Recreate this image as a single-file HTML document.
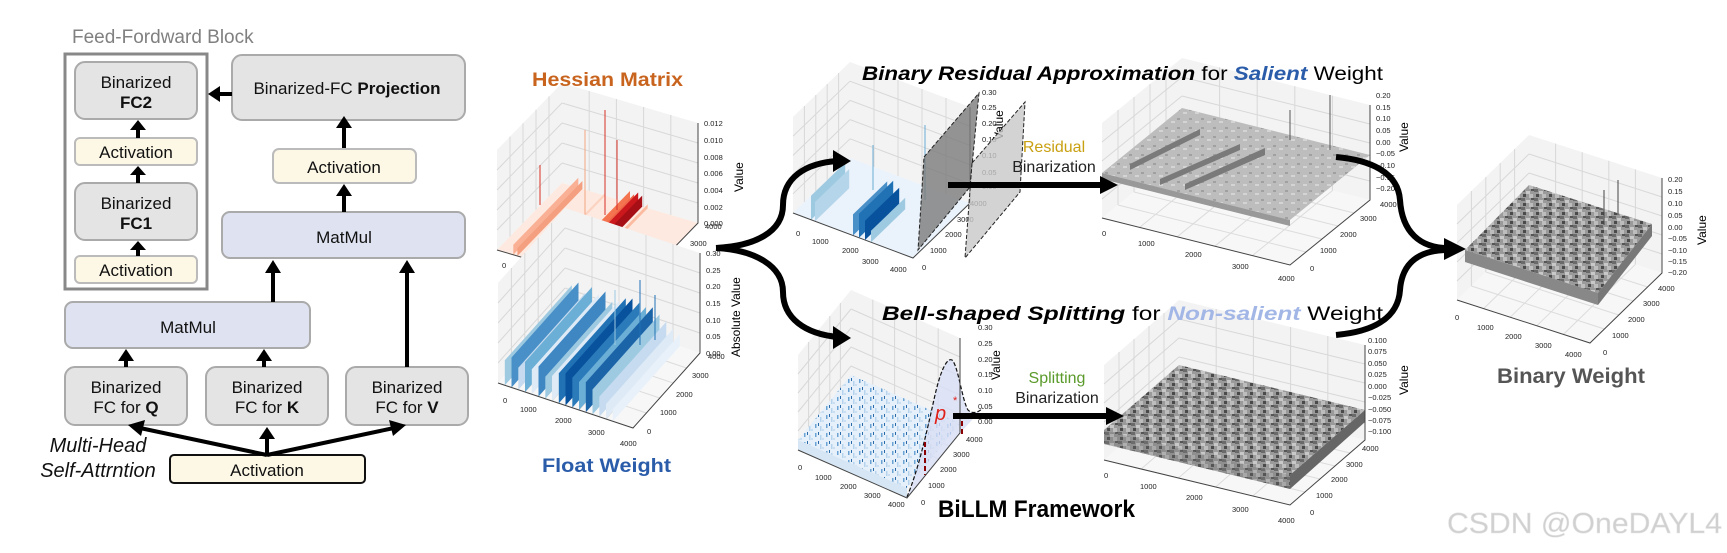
<!DOCTYPE html>
<html><head><meta charset="utf-8"><style>
html,body{margin:0;padding:0;background:#fff;}
svg{display:block;font-family:"Liberation Sans",Arial,sans-serif;}
.t{font-size:7.5px;fill:#222;}
</style></head><body>
<svg width="1727" height="553" viewBox="0 0 1727 553" xmlns="http://www.w3.org/2000/svg">
<defs>
<g id="wall"><rect x="0" y="0" width="1" height="1" fill="#f3f3f3"/>
<path d="M.2 0V1M.4 0V1M.6 0V1M.8 0V1M0 .2H1M0 .4H1M0 .6H1M0 .8H1" stroke="#d8d8d8" stroke-width="1" vector-effect="non-scaling-stroke" fill="none"/></g>
<g id="floor"><rect x="0" y="0" width="1" height="1" fill="#f7f7f7"/>
<path d="M.2 0V1M.4 0V1M.6 0V1M.8 0V1M0 .2H1M0 .4H1M0 .6H1M0 .8H1" stroke="#dcdcdc" stroke-width="1" vector-effect="non-scaling-stroke" fill="none"/></g>
<pattern id="gr" width="13" height="9" patternUnits="userSpaceOnUse">
<rect width="13" height="9" fill="#9a9a9a"/><rect x="0" y="0" width="4" height="3" fill="#6a6a6a"/><rect x="5" y="2" width="4" height="3" fill="#c8c8c8"/><rect x="2" y="5" width="3" height="3" fill="#4a4a4a"/><rect x="8" y="5" width="4" height="4" fill="#bdbdbd"/><rect x="10" y="0" width="3" height="2" fill="#555"/></pattern>
<pattern id="gl" width="12" height="9" patternUnits="userSpaceOnUse">
<rect width="12" height="9" fill="#bdbdbd"/><rect x="1" y="1" width="3" height="2" fill="#a0a0a0"/><rect x="7" y="4" width="4" height="2" fill="#d4d4d4"/></pattern>
<pattern id="bl" width="11" height="9" patternUnits="userSpaceOnUse">
<rect width="11" height="9" fill="#e6f0fa"/><rect x="1" y="1" width="1.5" height="4" fill="#6aa3d4"/><rect x="6" y="3" width="1.5" height="5" fill="#b5d3ec"/><rect x="4" y="0" width="1" height="3" fill="#2a6aa8"/><rect x="8" y="6" width="2" height="2" fill="#c9def0"/></pattern>
</defs>

<!-- ================= LEFT BLOCK ================= -->
<g font-size="17" text-anchor="middle" fill="#111">
<text x="72" y="43" text-anchor="start" font-size="19" fill="#808080">Feed-Fordward Block</text>
<rect x="65" y="54" width="142" height="235" fill="none" stroke="#888" stroke-width="3"/>
<rect x="75" y="62" width="122" height="57" rx="10" fill="#e4e4e4" stroke="#aaa" stroke-width="2"/>
<text x="136" y="88">Binarized</text><text x="136" y="108" font-weight="bold">FC2</text>
<rect x="75" y="138" width="122" height="27" rx="5" fill="#fdf8e6" stroke="#bbb" stroke-width="2"/>
<text x="136" y="158">Activation</text>
<rect x="75" y="183" width="122" height="57" rx="10" fill="#e4e4e4" stroke="#aaa" stroke-width="2"/>
<text x="136" y="209">Binarized</text><text x="136" y="229" font-weight="bold">FC1</text>
<rect x="75" y="256" width="122" height="27" rx="5" fill="#fdf8e6" stroke="#bbb" stroke-width="2"/>
<text x="136" y="276">Activation</text>

<rect x="232" y="55" width="233" height="65" rx="10" fill="#e4e4e4" stroke="#aaa" stroke-width="2"/>
<text x="347" y="94">Binarized-FC <tspan font-weight="bold">Projection</tspan></text>
<rect x="273" y="149" width="143" height="34" rx="6" fill="#fdf8e6" stroke="#bbb" stroke-width="2"/>
<text x="344" y="173">Activation</text>
<rect x="222" y="212" width="243" height="46" rx="8" fill="#dfe3f1" stroke="#aaa" stroke-width="2"/>
<text x="344" y="243">MatMul</text>
<rect x="65" y="302" width="245" height="46" rx="8" fill="#dfe3f1" stroke="#aaa" stroke-width="2"/>
<text x="188" y="333">MatMul</text>
<rect x="65" y="367" width="122" height="58" rx="10" fill="#e4e4e4" stroke="#aaa" stroke-width="2"/>
<text x="126" y="393">Binarized</text><text x="126" y="413">FC for <tspan font-weight="bold">Q</tspan></text>
<rect x="206" y="367" width="122" height="58" rx="10" fill="#e4e4e4" stroke="#aaa" stroke-width="2"/>
<text x="267" y="393">Binarized</text><text x="267" y="413">FC for  <tspan font-weight="bold">K</tspan></text>
<rect x="346" y="367" width="122" height="58" rx="10" fill="#e4e4e4" stroke="#aaa" stroke-width="2"/>
<text x="407" y="393">Binarized</text><text x="407" y="413">FC for <tspan font-weight="bold">V</tspan></text>
<rect x="170" y="455" width="195" height="28" rx="4" fill="#fdf8e6" stroke="#111" stroke-width="2"/>
<text x="267" y="476">Activation</text>
<text x="98" y="452" font-size="20" font-style="italic">Multi-Head</text>
<text x="98" y="477" font-size="20" font-style="italic">Self-Attrntion</text>
</g>
<g stroke="#000" stroke-width="4" fill="#000">
<line x1="138" y1="138" x2="138" y2="128"/><polygon points="130,130 146,130 138,120" stroke="none"/>
<line x1="138" y1="183" x2="138" y2="174"/><polygon points="130,175 146,175 138,166" stroke="none"/>
<line x1="138" y1="256" x2="138" y2="249"/><polygon points="130,250 146,250 138,241" stroke="none"/>
<line x1="232" y1="94" x2="218" y2="94"/><polygon points="220,86 220,102 208,94" stroke="none"/>
<line x1="344" y1="148" x2="344" y2="127"/><polygon points="336,128 352,128 344,116" stroke="none"/>
<line x1="344" y1="212" x2="344" y2="195"/><polygon points="336,196 352,196 344,184" stroke="none"/>
<line x1="273" y1="302" x2="273" y2="272"/><polygon points="265,273 281,273 273,260" stroke="none"/>
<line x1="407" y1="367" x2="407" y2="272"/><polygon points="399,273 415,273 407,260" stroke="none"/>
<line x1="126" y1="367" x2="126" y2="360"/><polygon points="118,361 134,361 126,349" stroke="none"/>
<line x1="264" y1="367" x2="264" y2="360"/><polygon points="256,361 272,361 264,349" stroke="none"/>
<line x1="267" y1="455" x2="267" y2="438"/><polygon points="259,439 275,439 267,427" stroke="none"/>
<line x1="267" y1="455" x2="140" y2="428"/><polygon points="145,420 141,436 128,425" stroke="none"/>
<line x1="267" y1="455" x2="394" y2="428"/><polygon points="389,420 393,436 406,425" stroke="none"/>
</g>

<!-- ================= PLOTS ================= -->
<!-- 1 Hessian -->
<g>
<use href="#wall" transform="matrix(65,-67,0,-100,497,250)"/>
<use href="#wall" transform="matrix(136,40,0,-100,562,183)"/>
<use href="#floor" transform="matrix(136,40,65,-67,497,250)"/>
<rect width="1" height="1" fill="#fde9df" transform="matrix(136,40,65,-67,497,250)"/>
<g>
<rect width="1" height="0.1" fill="#f9b094" transform="matrix(65,-67,0,-100,513.3,254.8)"/>
<rect width="1" height="0.08" fill="#f4a080" transform="matrix(65,-67,0,-100,517.4,256)"/>
<rect width="1" height="0.03" fill="#fcd2c0" transform="matrix(65,-67,0,-100,540,263)"/>
<rect width="1" height="0.12" fill="#f4744f" transform="matrix(65,-67,0,-100,565,270)"/>
<rect width="1" height="0.1" fill="#ef6548" transform="matrix(65,-67,0,-100,569.1,271.2)"/>
<rect width="1" height="0.13" fill="#cb181d" transform="matrix(65,-67,0,-100,573.2,272.4)"/>
<rect width="1" height="0.11" fill="#a50f15" transform="matrix(65,-67,0,-100,577.2,273.6)"/>
<rect width="1" height="0.04" fill="#fcbba1" transform="matrix(65,-67,0,-100,582.7,275.2)"/>
</g>
<g stroke="#d73027" stroke-width="1"><line x1="605" y1="215" x2="605" y2="110"/><line x1="617" y1="210" x2="617" y2="140"/><line x1="540" y1="205" x2="540" y2="165"/><line x1="585" y1="215" x2="585" y2="130" stroke="#f4a582"/></g>
<path d="M497 250L633 290L698 223V123" fill="none" stroke="#444" stroke-width="1"/>
<g class="t"><text x="502" y="268">0</text><text x="522" y="278">1000</text><text x="556" y="288">2000</text><text x="590" y="298">3000</text><text x="622" y="306">4000</text>
<text x="648" y="298">0</text><text x="660" y="280">1000</text><text x="676" y="262">2000</text><text x="690" y="246">3000</text><text x="705" y="229">4000</text>
<text x="704" y="226">0.000</text><text x="704" y="210">0.002</text><text x="704" y="193">0.004</text><text x="704" y="176">0.006</text><text x="704" y="160">0.008</text><text x="704" y="143">0.010</text><text x="704" y="126">0.012</text></g>
<text x="0" y="0" font-size="12" transform="translate(743,192) rotate(-90)">Value</text>
</g>

<!-- 2 Float -->
<g>
<use href="#wall" transform="matrix(67,-75,0,-100,498,383)"/>
<use href="#wall" transform="matrix(135,45,0,-100,565,308)"/>
<use href="#floor" transform="matrix(135,45,67,-75,498,383)"/>
<rect width="1" height="0.25" fill="#9ecae1" transform="matrix(67,-75,0,-100,504.8,385.3)"/>
<rect width="1" height="0.3" fill="#4a90c8" transform="matrix(67,-75,0,-100,511.5,387.5)"/>
<rect width="1" height="0.22" fill="#c6dbef" transform="matrix(67,-75,0,-100,518.3,389.8)"/>
<rect width="1" height="0.3" fill="#6baed6" transform="matrix(67,-75,0,-100,525,392)"/>
<rect width="1" height="0.25" fill="#deebf7" transform="matrix(67,-75,0,-100,531.8,394.3)"/>
<rect width="1" height="0.3" fill="#3f87c2" transform="matrix(67,-75,0,-100,538.5,396.5)"/>
<rect width="1" height="0.22" fill="#9ecae1" transform="matrix(67,-75,0,-100,545.3,398.8)"/>
<rect width="1" height="0.25" fill="#deebf7" transform="matrix(67,-75,0,-100,552,401)"/>
<rect width="1" height="0.3" fill="#2171b5" transform="matrix(67,-75,0,-100,558.8,403.3)"/>
<rect width="1" height="0.32" fill="#08519c" transform="matrix(67,-75,0,-100,565.5,405.5)"/>
<rect width="1" height="0.3" fill="#2b7bba" transform="matrix(67,-75,0,-100,572.3,407.8)"/>
<rect width="1" height="0.28" fill="#6baed6" transform="matrix(67,-75,0,-100,579,410)"/>
<rect width="1" height="0.3" fill="#1c64a8" transform="matrix(67,-75,0,-100,585.8,412.3)"/>
<rect width="1" height="0.25" fill="#9ecae1" transform="matrix(67,-75,0,-100,592.5,414.5)"/>
<rect width="1" height="0.2" fill="#c6dbef" transform="matrix(67,-75,0,-100,599.3,416.8)"/>
<rect width="1" height="0.15" fill="#deebf7" transform="matrix(67,-75,0,-100,606,419)"/>
<rect width="1" height="0.12" fill="#e8f1fa" transform="matrix(67,-75,0,-100,612.8,421.3)"/>
<g stroke="#2171b5" stroke-width="1"><line x1="640" y1="345" x2="640" y2="280"/><line x1="655" y1="340" x2="655" y2="295"/><line x1="615" y1="345" x2="615" y2="290" stroke="#9ecae1"/></g>
<path d="M498 383L633 428L700 353V253" fill="none" stroke="#444" stroke-width="1"/>
<g class="t"><text x="503" y="403">0</text><text x="520" y="412">1000</text><text x="555" y="423">2000</text><text x="588" y="435">3000</text><text x="620" y="446">4000</text>
<text x="647" y="434">0</text><text x="660" y="415">1000</text><text x="676" y="397">2000</text><text x="692" y="378">3000</text><text x="708" y="359">4000</text>
<text x="706" y="356">0.00</text><text x="706" y="339">0.05</text><text x="706" y="323">0.10</text><text x="706" y="306">0.15</text><text x="706" y="289">0.20</text><text x="706" y="273">0.25</text><text x="706" y="256">0.30</text></g>
<text x="0" y="0" font-size="12" transform="translate(740,357) rotate(-90)">Absolute Value</text>
</g>

<!-- 3 Residual in -->
<g>
<use href="#wall" transform="matrix(57,-55,0,-96,793,213)"/>
<use href="#wall" transform="matrix(120,45,0,-96,850,158)"/>
<use href="#floor" transform="matrix(120,45,57,-55,793,213)"/>
<rect width="1" height="1" fill="#eaf2fb" transform="matrix(120,45,57,-55,793,213)"/>
<rect width="0.6" height="0.25" fill="#9ecae1" transform="matrix(57,-55,0,-96,811,219.8)"/>
<rect width="0.6" height="0.2" fill="#b5d5ea" transform="matrix(57,-55,0,-96,815,221.3)"/>
<rect width="0.6" height="0.22" fill="#4a90c8" transform="matrix(57,-55,0,-96,853,235.5)"/>
<rect width="0.6" height="0.25" fill="#2171b5" transform="matrix(57,-55,0,-96,859,237.8)"/>
<rect width="0.6" height="0.2" fill="#08519c" transform="matrix(57,-55,0,-96,865,240)"/>
<rect width="0.6" height="0.12" fill="#9ecae1" transform="matrix(57,-55,0,-96,871,242.3)"/>
<g stroke="#6baed6" stroke-width="1"><line x1="925" y1="200" x2="925" y2="125"/><line x1="873" y1="190" x2="873" y2="145"/></g>
<path d="M793 213L913 258L970 203V107" fill="none" stroke="#444" stroke-width="1"/>
<g class="t"><text x="796" y="236">0</text><text x="812" y="244">1000</text><text x="842" y="253">2000</text><text x="862" y="264">3000</text><text x="890" y="272">4000</text>
<text x="922" y="270">0</text><text x="930" y="253">1000</text><text x="945" y="237">2000</text><text x="957" y="222">3000</text><text x="970" y="206">4000</text>
<text x="982" y="189">0.00</text><text x="982" y="175">0.05</text><text x="982" y="158">0.10</text><text x="982" y="142">0.15</text><text x="982" y="126">0.20</text><text x="982" y="110">0.25</text><text x="982" y="95">0.30</text></g>
<text x="0" y="0" font-size="12" transform="translate(1003,140) rotate(-90)">Value</text>
<polygon points="924,157 979,93 970,187 918,250" fill="#7a7a7a" fill-opacity="0.8" stroke="#222" stroke-dasharray="4,2" stroke-width="1"/>
<polygon points="972,163 1025,102 1020,192 965,258" fill="#c8c8c8" fill-opacity="0.8" stroke="#222" stroke-dasharray="4,2" stroke-width="1"/>
</g>

<!-- 4 Residual out -->
<g>
<use href="#wall" transform="matrix(80,-65,0,-95,1102,218)"/>
<use href="#wall" transform="matrix(188,47,0,-95,1182,153)"/>
<use href="#floor" transform="matrix(188,47,80,-65,1102,218)"/>
<polygon points="1102,173 1290,220 1370,155 1182,108" fill="url(#gl)"/>
<polygon points="1102,173 1290,220 1290,226 1102,179" fill="#999"/>
<g fill="#7a7a7a"><polygon points="1130,170 1200,135 1200,129 1130,164"/><polygon points="1160,185 1240,150 1240,144 1160,179"/><polygon points="1185,190 1265,155 1265,148 1185,184"/></g>
<g stroke="#555" stroke-width="1"><line x1="1290" y1="140" x2="1290" y2="110"/><line x1="1330" y1="150" x2="1330" y2="95"/></g>
<path d="M1102 218L1290 265L1370 200V105" fill="none" stroke="#444" stroke-width="1"/>
<g class="t"><text x="1102" y="236">0</text><text x="1138" y="246">1000</text><text x="1185" y="257">2000</text><text x="1232" y="269">3000</text><text x="1278" y="281">4000</text>
<text x="1310" y="271">0</text><text x="1320" y="253">1000</text><text x="1340" y="237">2000</text><text x="1360" y="221">3000</text><text x="1380" y="207">4000</text>
<text x="1376" y="191">−0.20</text><text x="1376" y="180">−0.15</text><text x="1376" y="168">−0.10</text><text x="1376" y="156">−0.05</text><text x="1376" y="145">0.00</text><text x="1376" y="133">0.05</text><text x="1376" y="121">0.10</text><text x="1376" y="110">0.15</text><text x="1376" y="98">0.20</text></g>
<text x="0" y="0" font-size="12" transform="translate(1408,152) rotate(-90)">Value</text>
</g>

<!-- 5 Bell in -->
<g>
<use href="#wall" transform="matrix(53,-65,0,-95,798,450)"/>
<use href="#wall" transform="matrix(109,48,0,-95,851,385)"/>
<use href="#floor" transform="matrix(109,48,53,-65,798,450)"/>
<polygon points="798,440 907,488 960,423 851,375" fill="url(#bl)"/>
<polygon points="798,440 907,488 907,498 798,450" fill="#d6e6f4"/>
<path d="M907 497C918 470 925 440 935 395C942 365 948 358 952 360C958 365 962 400 968 410C972 414 978 413 983 408L960 433L907 498Z" fill="#d8def5" fill-opacity="0.8"/>
<path d="M907 497C918 470 925 440 935 395C942 365 948 358 952 360C958 365 962 400 968 410C972 414 978 413 983 408" fill="none" stroke="#111" stroke-width="1.2" stroke-dasharray="4,2"/>
<g stroke="#8b0000" stroke-width="2" stroke-dasharray="5,3"><line x1="925" y1="442" x2="925" y2="475"/><line x1="962" y1="413" x2="962" y2="437"/></g>
<text x="935" y="420" font-size="20" font-style="italic" fill="#e0201a">p</text><text x="953" y="404" font-size="11" fill="#e0201a">*</text>
<path d="M798 450L907 498L960 433V338" fill="none" stroke="#444" stroke-width="1"/>
<g class="t"><text x="798" y="470">0</text><text x="815" y="480">1000</text><text x="840" y="489">2000</text><text x="864" y="498">3000</text><text x="888" y="507">4000</text>
<text x="921" y="505">0</text><text x="928" y="488">1000</text><text x="940" y="472">2000</text><text x="953" y="457">3000</text><text x="966" y="442">4000</text>
<text x="978" y="424">0.00</text><text x="978" y="409">0.05</text><text x="978" y="393">0.10</text><text x="978" y="377">0.15</text><text x="978" y="362">0.20</text><text x="978" y="346">0.25</text><text x="978" y="330">0.30</text></g>
<text x="0" y="0" font-size="12" transform="translate(1000,380) rotate(-90)">Value</text>
</g>

<!-- 6 Bell out -->
<g>
<use href="#wall" transform="matrix(75,-65,0,-95,1104,460)"/>
<use href="#wall" transform="matrix(186,45,0,-95,1179,395)"/>
<use href="#floor" transform="matrix(186,45,75,-65,1104,460)"/>
<polygon points="1104,430 1290,475 1365,410 1179,365" fill="url(#gr)"/>
<polygon points="1104,430 1290,475 1290,489 1104,444" fill="url(#gr)" opacity="0.85"/>
<polygon points="1104,430 1290,475 1290,489 1104,444" fill="#000" opacity="0.15"/>
<polygon points="1290,475 1365,410 1365,422 1290,489" fill="#666"/>
<path d="M1104 460L1290 505L1365 440V345" fill="none" stroke="#444" stroke-width="1"/>
<g class="t"><text x="1104" y="478">0</text><text x="1140" y="489">1000</text><text x="1186" y="500">2000</text><text x="1232" y="512">3000</text><text x="1278" y="523">4000</text>
<text x="1310" y="515">0</text><text x="1316" y="498">1000</text><text x="1331" y="482">2000</text><text x="1346" y="467">3000</text><text x="1362" y="451">4000</text>
<text x="1368" y="434">−0.100</text><text x="1368" y="423">−0.075</text><text x="1368" y="412">−0.050</text><text x="1368" y="400">−0.025</text><text x="1368" y="389">0.000</text><text x="1368" y="377">0.025</text><text x="1368" y="366">0.050</text><text x="1368" y="354">0.075</text><text x="1368" y="343">0.100</text></g>
<text x="0" y="0" font-size="12" transform="translate(1408,395) rotate(-90)">Value</text>
</g>

<!-- 7 Binary -->
<g>
<use href="#wall" transform="matrix(72,-70,0,-95,1457,300)"/>
<use href="#wall" transform="matrix(133,43,0,-95,1529,230)"/>
<use href="#floor" transform="matrix(133,43,72,-70,1457,300)"/>
<polygon points="1465,250 1598,293 1652,224 1529,185" fill="url(#gr)"/>
<polygon points="1465,250 1598,293 1598,305 1465,262" fill="#888"/>
<polygon points="1598,293 1652,224 1652,236 1598,305" fill="#777"/>
<g stroke="#444" stroke-width="1"><line x1="1618" y1="215" x2="1618" y2="180"/><line x1="1604" y1="225" x2="1604" y2="190"/></g>
<path d="M1457 300L1590 343L1662 273V178" fill="none" stroke="#444" stroke-width="1"/>
<g class="t"><text x="1455" y="320">0</text><text x="1477" y="330">1000</text><text x="1505" y="339">2000</text><text x="1535" y="348">3000</text><text x="1565" y="357">4000</text>
<text x="1603" y="355">0</text><text x="1612" y="338">1000</text><text x="1628" y="322">2000</text><text x="1643" y="306">3000</text><text x="1658" y="291">4000</text>
<text x="1668" y="275">−0.20</text><text x="1668" y="264">−0.15</text><text x="1668" y="253">−0.10</text><text x="1668" y="241">−0.05</text><text x="1668" y="230">0.00</text><text x="1668" y="218">0.05</text><text x="1668" y="206">0.10</text><text x="1668" y="194">0.15</text><text x="1668" y="182">0.20</text></g>
<text x="0" y="0" font-size="12" transform="translate(1706,245) rotate(-90)">Value</text>
</g>

<!-- ================= ARROWS ================= -->
<g fill="none" stroke="#000" stroke-width="6">
<path d="M716 248C755 246 783 232 783 205C783 178 805 163 838 161"/>
<path d="M716 248C755 250 783 266 783 292C783 318 805 334 838 337"/>
<path d="M1336 157C1370 160 1398 172 1400 200C1402 232 1420 248 1448 248"/>
<path d="M1336 335C1370 332 1398 320 1400 290C1402 262 1420 250 1448 250"/>
<line x1="948" y1="185" x2="1102" y2="185"/>
<line x1="953" y1="416" x2="1108" y2="416"/>
</g>
<g fill="#000">
<polygon points="833,150 851,161 833,172"/>
<polygon points="833,326 851,338 833,349"/>
<polygon points="1444,238 1466,249 1444,260"/>
<polygon points="1100,176 1118,185 1100,194"/>
<polygon points="1106,407 1124,416 1106,425"/>
</g>

<!-- ================= TEXTS ================= -->
<text x="532" y="86" font-size="19" font-weight="bold" fill="#c8641e" textLength="151" lengthAdjust="spacingAndGlyphs">Hessian Matrix</text>
<text x="542" y="472" font-size="19" font-weight="bold" fill="#2a5caa" textLength="129" lengthAdjust="spacingAndGlyphs">Float Weight</text>
<text x="862" y="80" font-size="19" fill="#000" textLength="521" lengthAdjust="spacingAndGlyphs"><tspan font-weight="bold" font-style="italic">Binary Residual Approximation</tspan> for <tspan font-weight="bold" font-style="italic" fill="#2a5caa">Salient</tspan> Weight</text>
<text x="882" y="320" font-size="19" fill="#000" textLength="501" lengthAdjust="spacingAndGlyphs"><tspan font-weight="bold" font-style="italic">Bell-shaped Splitting</tspan> for <tspan font-weight="bold" font-style="italic" fill="#a3b7e6">Non-salient</tspan> Weight</text>
<text x="1054" y="152" font-size="16" fill="#c9a012" text-anchor="middle">Residual</text>
<text x="1054" y="172" font-size="16" fill="#222" text-anchor="middle">Binarization</text>
<text x="1057" y="383" font-size="16" fill="#5a9a2a" text-anchor="middle">Splitting</text>
<text x="1057" y="403" font-size="16" fill="#222" text-anchor="middle">Binarization</text>
<text x="938" y="517" font-size="24" font-weight="bold" fill="#000" textLength="197" lengthAdjust="spacingAndGlyphs">BiLLM Framework</text>
<text x="1497" y="383" font-size="21" font-weight="bold" fill="#555" textLength="148" lengthAdjust="spacingAndGlyphs">Binary  Weight</text>
<text x="1447" y="533" font-size="29" fill="#d0d0d0" stroke="#e4e4e4" stroke-width="0.5" textLength="275" lengthAdjust="spacingAndGlyphs">CSDN @OneDAYL4</text>
</svg>
</body></html>
